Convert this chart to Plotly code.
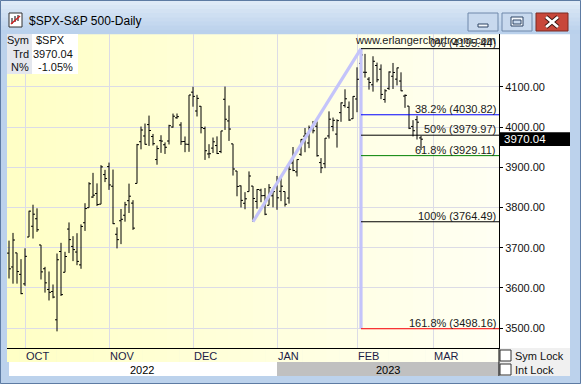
import plotly.graph_objects as go

# ---------------- data ----------------
dates = [
    "2022-09-27", "2022-09-28", "2022-09-29", "2022-09-30",
    "2022-10-03", "2022-10-04", "2022-10-05", "2022-10-06", "2022-10-07",
    "2022-10-10", "2022-10-11", "2022-10-12", "2022-10-13", "2022-10-14",
    "2022-10-17", "2022-10-18", "2022-10-19", "2022-10-20", "2022-10-21",
    "2022-10-24", "2022-10-25", "2022-10-26", "2022-10-27", "2022-10-28",
    "2022-10-31",
    "2022-11-01", "2022-11-02", "2022-11-03", "2022-11-04",
    "2022-11-07", "2022-11-08", "2022-11-09", "2022-11-10", "2022-11-11",
    "2022-11-14", "2022-11-15", "2022-11-16", "2022-11-17", "2022-11-18",
    "2022-11-21", "2022-11-22", "2022-11-23", "2022-11-25",
    "2022-11-28", "2022-11-29", "2022-11-30",
    "2022-12-01", "2022-12-02",
    "2022-12-05", "2022-12-06", "2022-12-07", "2022-12-08", "2022-12-09",
    "2022-12-12", "2022-12-13", "2022-12-14", "2022-12-15", "2022-12-16",
    "2022-12-19", "2022-12-20", "2022-12-21", "2022-12-22", "2022-12-23",
    "2022-12-27", "2022-12-28", "2022-12-29", "2022-12-30",
    "2023-01-03", "2023-01-04", "2023-01-05", "2023-01-06",
    "2023-01-09", "2023-01-10", "2023-01-11", "2023-01-12", "2023-01-13",
    "2023-01-17", "2023-01-18", "2023-01-19", "2023-01-20",
    "2023-01-23", "2023-01-24", "2023-01-25", "2023-01-26", "2023-01-27",
    "2023-01-30", "2023-01-31",
    "2023-02-01", "2023-02-02", "2023-02-03",
    "2023-02-06", "2023-02-07", "2023-02-08", "2023-02-09", "2023-02-10",
    "2023-02-13", "2023-02-14", "2023-02-15", "2023-02-16", "2023-02-17",
    "2023-02-21", "2023-02-22", "2023-02-23", "2023-02-24",
]
opens = [
    3686.4, 3651.9, 3687.0, 3633.5,
    3609.8, 3726.5, 3753.3, 3772.0, 3706.7,
    3647.5, 3595.9, 3590.8, 3520.4, 3690.4,
    3638.7, 3746.3, 3703.1, 3689.1, 3657.1,
    3762.0, 3799.4, 3826.0, 3834.7, 3808.3,
    3881.9,
    3901.8, 3852.9, 3733.3, 3767.0,
    3780.7, 3817.0, 3810.9, 3859.9, 3963.7,
    3978.0, 4006.4, 3976.8, 3919.3, 3966.4,
    3956.2, 3965.5, 4000.3, 4023.3,
    4005.4, 3964.2, 3957.2,
    4087.1, 4040.2,
    4052.0, 3996.6, 3933.3, 3947.8, 3954.2,
    3939.3, 4069.4, 4015.5, 3958.4, 3890.9,
    3853.8, 3810.5, 3839.5, 3853.3, 3815.1,
    3843.3, 3829.6, 3805.5, 3829.1,
    3853.3, 3840.4, 3839.7, 3823.4,
    3910.8, 3888.6, 3932.4, 3977.6, 3960.6,
    3999.3, 4002.3, 3911.8, 3909.0,
    3978.1, 4001.7, 3982.7, 4036.1, 4053.7,
    4049.3, 4020.9,
    4070.1, 4158.7, 4136.7,
    4119.6, 4105.4, 4153.5, 4144.3, 4068.9,
    4096.6, 4126.7, 4119.5, 4114.8, 4077.4,
    4052.4, 4001.8, 4018.6, 3973.2,
]
highs = [
    3717.5, 3736.7, 3687.0, 3671.4,
    3698.4, 3791.9, 3806.9, 3797.9, 3706.7,
    3652.2, 3640.7, 3608.3, 3685.4, 3712.0,
    3689.7, 3762.8, 3728.6, 3736.0, 3757.9,
    3810.7, 3862.9, 3886.2, 3860.0, 3905.4,
    3893.7,
    3911.8, 3894.4, 3750.6, 3796.3,
    3814.0, 3859.4, 3818.2, 3958.3, 4001.5,
    4009.0, 4028.8, 3983.1, 3954.3, 3979.9,
    3962.0, 4005.9, 4033.8, 4034.0,
    4012.3, 3976.8, 4080.1,
    4100.5, 4080.5,
    4052.5, 4001.5, 3957.6, 3974.2, 3977.0,
    3990.7, 4101.0, 4053.8, 3958.4, 3890.9,
    3854.9, 3838.2, 3889.8, 3853.3, 3845.8,
    3846.7, 3848.3, 3858.2, 3839.9,
    3878.5, 3873.2, 3839.7, 3906.2,
    3950.6, 3919.8, 3970.1, 3997.8, 4004.0,
    4015.4, 4014.2, 3922.9, 3973.0,
    4039.3, 4023.9, 4019.6, 4061.6, 4094.2,
    4063.9, 4077.2,
    4149.0, 4195.4, 4182.4,
    4124.6, 4176.5, 4160.7, 4156.2, 4094.4,
    4138.9, 4159.8, 4148.1, 4136.5, 4081.5,
    4052.4, 4017.4, 4028.3, 3978.3,
]
lows = [
    3623.3, 3610.4, 3610.4, 3584.1,
    3604.9, 3726.5, 3722.7, 3739.2, 3620.7,
    3588.1, 3568.5, 3573.9, 3491.6, 3579.7,
    3638.7, 3686.5, 3666.5, 3656.4, 3647.4,
    3741.7, 3799.4, 3824.1, 3803.8, 3808.3,
    3863.2,
    3843.8, 3758.7, 3698.2, 3708.8,
    3764.7, 3786.3, 3744.2, 3859.9, 3944.8,
    3956.4, 3953.2, 3954.3, 3906.5, 3936.0,
    3933.3, 3956.9, 3998.7, 4020.8,
    3955.8, 3937.7, 3938.6,
    4050.9, 4026.6,
    3984.5, 3918.4, 3922.7, 3935.8, 3933.0,
    3935.3, 3993.0, 3965.7, 3879.5, 3827.9,
    3800.0, 3795.6, 3839.5, 3764.5, 3797.0,
    3813.2, 3780.8, 3805.5, 3800.3,
    3794.3, 3815.8, 3802.4, 3809.6,
    3890.4, 3877.3, 3928.5, 3937.6, 3947.7,
    3984.6, 3926.6, 3885.5, 3897.9,
    3971.6, 3989.8, 3949.1, 4013.3, 4048.7,
    4015.6, 4020.4,
    4037.2, 4141.9, 4123.4,
    4093.4, 4088.4, 4111.7, 4069.7, 4060.8,
    4092.7, 4095.0, 4104.0, 4089.5, 4048.0,
    3995.2, 3976.9, 3969.2, 3943.1,
]
closes = [
    3647.3, 3719.0, 3640.5, 3585.6,
    3678.4, 3790.9, 3783.3, 3744.5, 3639.7,
    3612.4, 3588.8, 3577.0, 3669.9, 3583.1,
    3678.0, 3720.0, 3695.2, 3665.8, 3752.8,
    3797.3, 3859.1, 3830.6, 3807.3, 3901.1,
    3872.0,
    3856.1, 3759.7, 3719.9, 3770.6,
    3806.8, 3828.1, 3748.6, 3956.4, 3992.9,
    3957.3, 3991.7, 3958.8, 3946.6, 3965.3,
    3949.9, 4003.6, 4027.3, 4026.1,
    3963.9, 3957.6, 4080.1,
    4076.6, 4071.7,
    3998.8, 3941.3, 3933.9, 3963.5, 3934.4,
    3990.6, 4019.7, 3995.3, 3895.8, 3852.4,
    3817.7, 3821.6, 3878.4, 3822.4, 3844.8,
    3829.3, 3783.2, 3849.3, 3839.5,
    3824.1, 3853.0, 3808.1, 3895.1,
    3892.1, 3919.3, 3969.6, 3983.2, 3999.1,
    3991.0, 3928.9, 3898.9, 3972.6,
    4019.8, 4017.0, 4016.2, 4060.4, 4070.6,
    4017.8, 4076.6,
    4119.2, 4179.8, 4136.5,
    4111.1, 4164.0, 4117.9, 4081.5, 4090.5,
    4137.3, 4136.1, 4147.6, 4090.4, 4079.1,
    3997.3, 3991.1, 4012.3, 3970.04,
]
future_sessions = ["2023-02-27", "2023-02-28", "2023-03-01"]

fib_pcts = ["0%", "38.2%", "50%", "61.8%", "100%", "161.8%"]
fib_levels = [4195.44, 4030.82, 3979.97, 3929.11, 3764.49, 3498.16]
fib_colors = ["#000000", "#0000FF", "#000000", "#008000", "#000000", "#FF0000"]
swing_low_date = "2022-12-22"
swing_high_date = "2023-02-02"

month_names = ["OCT", "NOV", "DEC", "JAN", "FEB", "MAR"]
year_labels = ["2022", "2023"]
y_ticks = [3500, 3600, 3700, 3800, 3900, 4000, 4100]

info_keys = ["Sym", "Trd", "N%"]
info_vals = ["$SPX", "3970.04", "-1.05%"]
title_text = "$SPX-S&amp;P 500-Daily"
watermark = "www.erlangerchartroom.com"

# ---------------- geometry helpers ----------------
W, H = 581, 384
PL, PR, PT, PB = 7, 499, 34, 348
X_MIN, X_MAX = -0.5, 122.5
Y_MIN, Y_MAX = 3450.2, 4231.9


def P(x):
    return (x - PL) / (PR - PL)


def Q(y):
    return (PB - y) / (PB - PT)


sessions = dates + future_sessions
idx = {d: i for i, d in enumerate(sessions)}
xs = list(range(len(dates)))
month_starts = [i for i in range(1, len(sessions)) if sessions[i][:7] != sessions[i - 1][:7]]
jan_idx = [i for i in month_starts if sessions[i].startswith("2023-01")][0]

shapes = []


def rect(x0, y0, x1, y1, fill, line=None, lw=0, layer="above", xref="paper", yref="paper"):
    shapes.append(dict(type="rect", xref=xref, yref=yref, x0=x0, x1=x1, y0=y0, y1=y1,
                       fillcolor=fill, line=dict(color=line or fill, width=lw), layer=layer))


def pline(x0, y0, x1, y1, color, w=1, layer="above"):
    shapes.append(dict(type="line", xref="paper", yref="paper", x0=P(x0), x1=P(x1),
                       y0=Q(y0), y1=Q(y1), line=dict(color=color, width=w), layer=layer))


# background gradient (plot + month row)
n = 40
for k in range(n):
    x0 = PL + (PR - PL) * k / n
    x1 = PL + (PR - PL) * (k + 1) / n + 0.6
    g = int(198 + (243 - 198) * k / (n - 1))
    rect(P(x0), Q(362), P(x1), Q(PT), f"rgb(255,255,{g})", layer="below")

# year row
rect(P(PL), Q(376), jan_idx, Q(362), "#FFFFFF", layer="below", xref="x")
rect(jan_idx, Q(376), P(PR), Q(362), "#C0C0C0", layer="below")
shapes[-1]["xref"] = "x"
shapes[-1]["x1"] = X_MAX

# right panel
rect(P(PR), Q(348), P(570), Q(PT), "#FFFFFF", layer="below")
rect(P(PR), Q(376), P(570), Q(348), "#F0F0F0", layer="below")
pline(PR, 348, PR, 376, "#000000", 1)

# title bar gradient
for k in range(8):
    c0 = (222, 234, 247)
    c1 = (186, 209, 236)
    t = k / 7
    c = tuple(int(c0[j] + (c1[j] - c0[j]) * t) for j in range(3))
    rect(P(0), Q(1 + k * 4.1), P(W), Q(1 + (k + 1) * 4.1 + 0.5), f"rgb{c}", layer="below")

# window outline
shapes.append(dict(type="rect", xref="paper", yref="paper", x0=P(0.5), x1=P(580.5),
                   y0=Q(383.5), y1=Q(0.5), line=dict(color="#5D7BA3", width=1), layer="above"))

# title icon
rect(P(9), Q(27), P(22), Q(13), "#FFFFFF", "#303030", 1)
pline(12, 24, 12, 18, "#000000", 1)
pline(15, 22, 15, 16, "#000000", 1)
pline(18, 21, 18, 15, "#000000", 1)
pline(11, 24, 20, 16, "#D02020", 1.5)

# window buttons
rect(P(468), Q(31), P(498), Q(13), "#C8D9EE", "#6E88AA", 1)
rect(P(478), Q(27), P(488), Q(24), "#F4F8FC", "#2E4564", 1)
rect(P(502), Q(31), P(532), Q(13), "#C8D9EE", "#6E88AA", 1)
rect(P(511), Q(26), P(523), Q(17), "#F4F8FC", "#2E4564", 1)
rect(P(513), Q(24), P(521), Q(20), "#C8D9EE", "#2E4564", 1)
rect(P(536), Q(31), P(568), Q(13), "#C8473B", "#7A2B22", 1)
pline(546, 17, 558, 27, "#3A1410", 4.5)
pline(546, 27, 558, 17, "#3A1410", 4.5)
pline(546, 17, 558, 27, "#FFFFFF", 2.8)
pline(546, 27, 558, 17, "#FFFFFF", 2.8)

# info box
rect(P(7), Q(74), P(32), Q(PT), "#E4E7EE")
rect(P(32), Q(74), P(78), Q(PT), "#FFFFFF")

# checkboxes
rect(P(500), Q(361), P(511), Q(350), "#FFFFFF", "#333333", 1)
rect(P(500), Q(375), P(511), Q(364), "#FFFFFF", "#333333", 1)

# current price box
last_close = closes[-1]
shapes.append(dict(type="rect", xref="paper", yref="y", x0=P(500), x1=P(570),
                   y0=last_close - 17, y1=last_close + 17.5,
                   fillcolor="#000000", line=dict(width=0), layer="above"))

# ---------------- traces ----------------
fig = go.Figure()

i_lo, i_hi = idx[swing_low_date], idx[swing_high_date]
fib_high, fib_low = fib_levels[0], fib_levels[4]
fig.add_trace(go.Scatter(x=[i_lo, i_hi], y=[fib_low, fib_high], mode="lines",
                         line=dict(color="#C4C4FA", width=3.2), hoverinfo="skip"))
fig.add_trace(go.Scatter(x=[i_hi, i_hi], y=[fib_high, fib_levels[-1]], mode="lines",
                         line=dict(color="#C4C4FA", width=3.2), hoverinfo="skip"))
for lvl, col in zip(fib_levels, fib_colors):
    fig.add_trace(go.Scatter(x=[i_hi, X_MAX], y=[lvl, lvl], mode="lines",
                             line=dict(color=col, width=1), hoverinfo="skip"))

fig.add_trace(go.Ohlc(x=xs, open=opens, high=highs, low=lows, close=closes,
                      increasing=dict(line=dict(color="#000000", width=1)),
                      decreasing=dict(line=dict(color="#000000", width=1)),
                      tickwidth=0.5, hoverinfo="skip"))

# ---------------- annotations ----------------
ann = []
FONT = "Liberation Sans, Arial, sans-serif"


def text(x, y, s, xanchor="left", size=11, color="#000000", xref="paper", yref="paper", yanchor="middle", yshift=0, xshift=0):
    ann.append(dict(x=x, y=y, xref=xref, yref=yref, text=s, showarrow=False,
                    xanchor=xanchor, yanchor=yanchor, yshift=yshift, xshift=xshift,
                    font=dict(family=FONT, size=size, color=color)))


text(P(27), Q(21), title_text, size=12, color="#000000")
for k, (key, val) in enumerate(zip(info_keys, info_vals)):
    yy = Q(40 + k * 13.5)
    text(P(31), yy, key, xanchor="right", color="#111111")
    if k == 0:
        text(P(34), yy, val, color="#111111")
    else:
        text(P(75), yy, val, xanchor="right", color="#111111")

text(P(498), Q(40), watermark, xanchor="right", color="#1A1A1A")

for pct, lvl in zip(fib_pcts, fib_levels):
    text(P(498), lvl, f"{pct} ({lvl:.2f})", xanchor="right", yref="y", yanchor="bottom",
         yshift=-2, color="#1A1A1A")

for name, mi in zip(month_names, month_starts):
    text(mi, Q(355.5), name, xref="x", color="#1C1C44", xshift=-1)

text((X_MIN + jan_idx) / 2, Q(369.5), year_labels[0], xanchor="center", xref="x")
text((jan_idx + X_MAX) / 2, Q(369.5), year_labels[1], xanchor="center", xref="x")

text(P(502), last_close, f"{last_close:.2f}", yref="y", color="#FFFFFF", size=11.5)
text(P(513), Q(355.5), "Sym Lock", color="#111111")
text(P(513), Q(369.5), "Int Lock", color="#111111")

fig.update_layout(
    width=W, height=H, autosize=False,
    margin=dict(l=PL, r=W - PR, t=PT, b=H - PB, pad=0),
    paper_bgcolor="#BCD2EC", plot_bgcolor="#FFFFDD",
    showlegend=False,
    font=dict(family=FONT, size=11, color="#000000"),
    shapes=shapes, annotations=ann,
    xaxis=dict(range=[X_MIN, X_MAX], tickvals=month_starts, showticklabels=False,
               showgrid=True, gridcolor="#DCDCE6", gridwidth=1, zeroline=False,
               showline=True, linecolor="#000000", linewidth=1, ticks="",
               rangeslider=dict(visible=False), fixedrange=True),
    yaxis=dict(range=[Y_MIN, Y_MAX], side="right", tickvals=y_ticks,
               ticktext=[f"{v:.2f}" for v in y_ticks],
               showgrid=True, gridcolor="#DCDCE6", gridwidth=1, zeroline=False,
               showline=True, linecolor="#000000", linewidth=1,
               ticks="outside", ticklen=3, tickcolor="#000000",
               tickfont=dict(family=FONT, size=11, color="#111111"), fixedrange=True),
)

fig.write_html("out.html")
